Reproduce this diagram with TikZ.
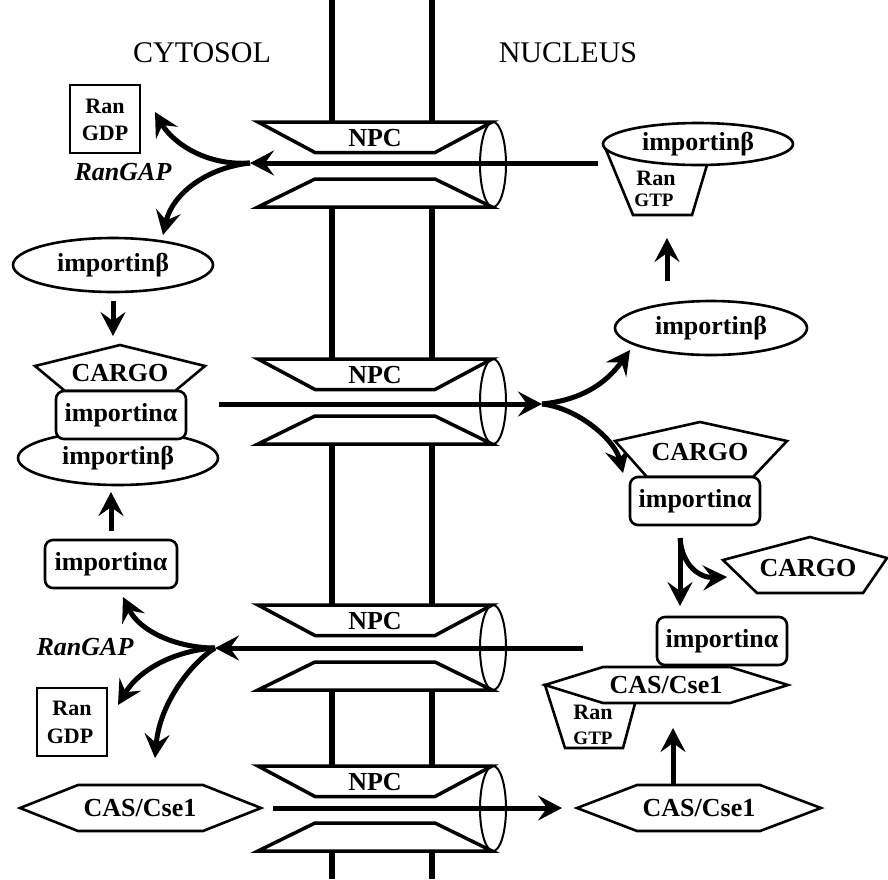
\documentclass[tikz,border=0pt]{standalone}
\usepackage{fontspec}
\setmainfont{Liberation Serif}
\usetikzlibrary{arrows.meta, shapes.geometric, positioning}

\tikzset{
  membrane/.style={line width=6pt},
  flow/.style={line width=5pt, -{Stealth[length=24pt, width=25pt, inset=9pt]}},
  outline/.style={draw, line width=2.6pt, fill=white, line join=miter},
  bold/.style={font=\bfseries\fontsize{26}{26}\selectfont, inner sep=0pt},
  ibeta/.style={outline, ellipse, bold, minimum width=200pt, minimum height=54pt},
  ialpha/.style={outline, rounded corners=8pt, bold, minimum width=130pt, minimum height=48pt},
  gdpbox/.style={draw, line width=2pt, fill=white, minimum width=70pt, minimum height=68pt, inner sep=0pt},
  ran/.style={font=\bfseries\fontsize{22}{22}\selectfont, inner sep=0pt},
  gtp/.style={font=\bfseries\fontsize{19}{19}\selectfont, inner sep=0pt},
  gap/.style={font=\bfseries\itshape\fontsize{26}{26}\selectfont, inner sep=0pt},
  region/.style={font=\fontsize{30}{30}\selectfont, inner sep=0pt},
  npc/.pic={
    \fill[white] (-117,-42.5) rectangle (117,42.5);
    \draw[line width=3.5pt, line join=miter] (-117,-42.5) -- (117,-42.5) -- (60,-12) -- (-60,-12) -- cycle;
    \draw[line width=3.5pt, line join=miter] (-60,14.5) -- (60,14.5) -- (117,42.5) -- (-117,42.5) -- cycle;
    \draw[line width=2pt] (118,0) ellipse [x radius=13pt, y radius=42.5pt];
    \node[bold] (-txt) at (0,-26) {NPC};
  },
}

\begin{document}
\begin{tikzpicture}[x=1pt, y=-1pt]
\useasboundingbox[fill=white] (0,0) rectangle (888,879);

% nuclear envelope and pores
\draw[membrane] (332,0) -- (332,879);
\draw[membrane] (432,0) -- (432,879);
\pic (npcA) at (375,164.5) {npc};
\pic (npcB) at (375,401.5) {npc};
\pic (npcC) at (375,647.5) {npc};
\pic (npcD) at (375,808.5) {npc};

\node[region] (cytosol) at (202,53) {CYTOSOL};
\node[region] (nucleus) at (568,53) {NUCLEUS};

% importin beta export
\draw[outline] (604,145) -- (713,145) -- (692,215) -- (633,215) -- cycle;
\node[ibeta, minimum width=190pt, minimum height=42pt] (betaTop) at (698,144) {importinβ};
\node[ran] (ranB) at (656,178) {Ran};
\node[gtp] (gtpB) at (654,200) {GTP};

\node[gdpbox] (ranGdpA) at (105,119) {};
\node[ran] (ranA) at (105,106) {Ran};
\node[ran] (gdpA) at (105,133) {GDP};
\node[gap] (gapA) at (123,172) {RanGAP};
\node[ibeta] (betaA) at (113,265) {importinβ};

\coordinate (srcA) at (598,163);
\coordinate (forkA) at (250,163);
\coordinate (toGdpA) at (155,112);
\coordinate (toBetaA) at (163,235);
\draw[flow] (srcA) -- (forkA);
\draw[flow] (forkA) .. controls (205,166) and (172,142) .. (toGdpA);
\draw[flow] (forkA) .. controls (205,168) and (172,195) .. (toBetaA);

% import complex
\coordinate (toCargoA) at (113,336);
\draw[flow, shorten <=8pt] (betaA.south) -- (toCargoA);
\node[ibeta] (betaB) at (118,458) {importinβ};
\draw[outline] (120,345) -- (205,366) -- (175,391) -- (65,391) -- (35,366) -- cycle;
\node[bold] (cargoA) at (120,373) {CARGO};
\node[ialpha] (alphaA) at (121,415) {importinα};

\coordinate (forkB) at (542,404);
\coordinate (toBetaC) at (630,350);
\coordinate (toCargoB) at (623,473);
\draw[flow] (betaB.east |- forkB) -- (forkB);
\draw[flow] (forkB) .. controls (580,400) and (605,385) .. (toBetaC);
\draw[flow] (forkB) .. controls (578,408) and (615,440) .. (toCargoB);

\node[ibeta, minimum width=192pt] (betaC) at (711,328) {importinβ};
\coordinate (upC) at (667,238);
\draw[flow, shorten <=19pt] (betaC.north -| upC) -- (upC);

\draw[outline] (700,422) -- (787,441) -- (753,477) -- (647,477) -- (615,441) -- cycle;
\node[bold] (cargoB) at (700,452) {CARGO};
\node[ialpha] (alphaB) at (695,501) {importinα};

% cargo release
\coordinate (splitC) at (680,538);
\coordinate (toAlphaE) at (680,606);
\coordinate (toCargoC) at (727,577);
\draw[flow] (splitC) -- (toAlphaE);
\draw[flow] (splitC) .. controls (682,566) and (700,578) .. (toCargoC);
\draw[outline] (810,537) -- (887,558) -- (863,593) -- (757,593) -- (723,560) -- cycle;
\node[bold] (cargoC) at (808,568) {CARGO};

% importin alpha export
\node[ialpha] (alphaE) at (722,641) {importinα};
\draw[outline] (545,685) -- (640,685) -- (623,748) -- (565,748) -- cycle;
\draw[outline] (545,685) -- (603,667) -- (730,667) -- (788,685) -- (730,703) -- (603,703) -- cycle;
\node[bold] (casA) at (666,685) {CAS/Cse1};
\node[ran] (ranC) at (593,712) {Ran};
\node[gtp] (gtpC) at (593,738) {GTP};

\coordinate (srcC) at (583,648);
\coordinate (forkC) at (215,648);
\coordinate (toAlphaF) at (123,597);
\coordinate (toGdpB) at (118,705);
\coordinate (toCasC) at (155,758);
\draw[flow] (srcC) -- (forkC);
\draw[flow] (forkC) .. controls (178,648) and (140,632) .. (toAlphaF);
\draw[flow] (forkC) .. controls (178,650) and (140,668) .. (toGdpB);
\draw[flow] (forkC) .. controls (195,660) and (160,700) .. (toCasC);

\node[ialpha, minimum width=132pt] (alphaF) at (111,564) {importinα};
\coordinate (toBetaB) at (111,492);
\draw[flow, shorten <=8pt] (alphaF.north) -- (toBetaB);
\node[gap] (gapB) at (85,647) {RanGAP};
\node[gdpbox] (ranGdpB) at (72,722) {};
\node[ran] (ranD) at (72,708) {Ran};
\node[ran] (gdpB) at (70,736) {GDP};

% CAS recycling
\draw[outline] (20,808) -- (78,785) -- (203,785) -- (261,808) -- (203,831) -- (78,831) -- cycle;
\node[bold] (casC) at (140,808) {CAS/Cse1};
\coordinate (fromCasC) at (273,808);
\coordinate (toCasB) at (562,808);
\draw[flow] (fromCasC) -- (toCasB);
\draw[outline] (577,808) -- (637,785) -- (760,785) -- (821,808) -- (760,831) -- (637,831) -- cycle;
\node[bold] (casB) at (699,808) {CAS/Cse1};
\coordinate (upD) at (673,728);
\draw[flow, shorten <=13pt] (casB.north -| upD) -- (upD);
\end{tikzpicture}
\end{document}
